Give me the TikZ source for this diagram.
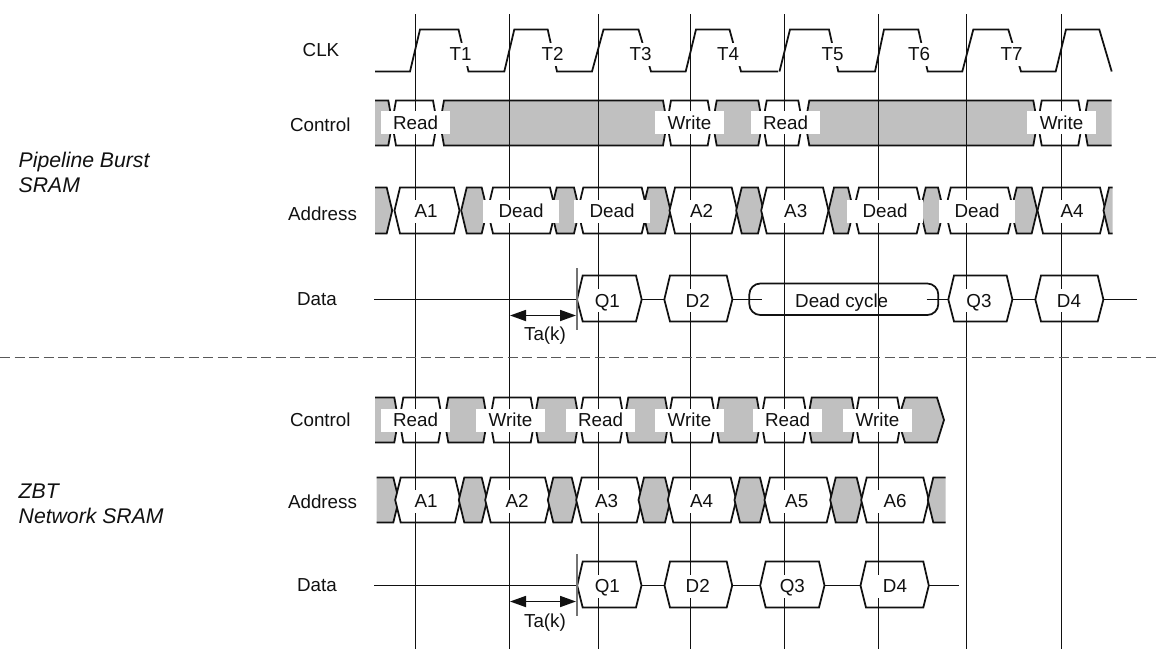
\documentclass[tikz,border=0pt]{standalone}
\usepackage{fontspec}
\setmainfont{Liberation Sans}
\usetikzlibrary{arrows.meta}
\definecolor{busgray}{HTML}{C0C0C0}
\definecolor{lineblack}{HTML}{111111}
\tikzset{
  wire/.style={draw=lineblack,line width=1.75pt,line join=miter},
  dashline/.style={draw=black!65,line width=1.3pt,dash pattern=on 10pt off 4.5pt},
  tickline/.style={draw=black!55,line width=1.4pt},
  txt/.style={inner sep=0pt,text height=13.5pt,text depth=0pt,text=lineblack,font=\fontsize{18.8}{22}\selectfont},
  boxed/.style={txt,fill=white,minimum height=23pt},
  cmdbox/.style={boxed,minimum width=69pt},
  deadbox/.style={boxed,minimum width=76pt},
  valbox/.style={boxed,minimum width=34pt},
  tlab/.style={boxed,minimum width=26pt},
  sidelabel/.style={txt},
  grouplabel/.style={inner sep=0pt,anchor=west,align=left,text=lineblack,font=\fontsize{21.2}{25}\selectfont\itshape},
  spanarrow/.style={wire,{Triangle[length=16pt,width=11pt]}-{Triangle[length=16pt,width=11pt]}}
}
\def\rT{0}\def\rB{0}\def\rM{0}\def\rS{4}
\newcommand{\setrow}[4]{\def\rT{#1}\def\rM{#2}\def\rB{#3}\def\rS{#4}}
\newcommand{\hexw}[2]{\path[wire,fill=white] ({#1-\rS},\rM) -- (#1,\rT) -- (#2,\rT) -- ({#2+\rS},\rM) -- (#2,\rB) -- (#1,\rB) -- cycle;}
\newcommand{\hexg}[2]{\path[wire,fill=busgray] ({#1-\rS},\rM) -- (#1,\rT) -- (#2,\rT) -- ({#2+\rS},\rM) -- (#2,\rB) -- (#1,\rB) -- cycle;}
\newcommand{\openl}[2]{\fill[busgray] (#1,\rT) -- (#2,\rT) -- ({#2+\rS},\rM) -- (#2,\rB) -- (#1,\rB) -- cycle;
  \draw[wire] (#1,\rT) -- (#2,\rT) -- ({#2+\rS},\rM) -- (#2,\rB) -- (#1,\rB);}
\newcommand{\openr}[2]{\fill[busgray] (#2,\rT) -- (#1,\rT) -- ({#1-\rS},\rM) -- (#1,\rB) -- (#2,\rB) -- cycle;
  \draw[wire] (#2,\rT) -- (#1,\rT) -- ({#1-\rS},\rM) -- (#1,\rB) -- (#2,\rB);}
\begin{document}
\begin{tikzpicture}[x=1pt,y=-1pt]
\useasboundingbox (0,0) rectangle (1157,649);
% clock
\draw[wire] (375,71.5) -- (410,71.5) -- (420,29.5) -- (458.5,29.5) -- (468.5,71.5) -- (504.3,71.5) -- (514.3,29.5) -- (547.7,29.5) -- (557,71.5) -- (592,71.5) -- (603.5,29.5) -- (638.5,29.5) -- (651,71.5) -- (685.7,71.5) -- (696,29.5) -- (729.5,29.5) -- (741,71.5) -- (778,71.5);
\draw[wire] (779.5,71.5) -- (790,29.5) -- (829,29.5) -- (838.3,71.5) -- (875,71.5) -- (884,29.5) -- (918.3,29.5) -- (927.7,71.5) -- (962.3,71.5) -- (973.3,29.5) -- (1008.3,29.5) -- (1021,71.5) -- (1055.7,71.5) -- (1066,29.5) -- (1099.3,29.5) -- (1111.7,71.5);
% upper control
\setrow{100.5}{122.8}{145.5}{4}
\openl{375}{388.3}
\hexw{396}{433}
\hexg{444}{663}
\hexw{671}{707.7}
\hexg{716.7}{758.3}
\hexw{766.7}{798.3}
\hexg{809.3}{1033.3}
\hexw{1041.7}{1078.3}
\openr{1087.7}{1111.7}
% upper address
\setrow{187.5}{210.5}{233.5}{5.5}
\openl{375}{386.7}
\hexw{400}{454}
\hexg{466.7}{481.7}
\hexw{493}{550}
\hexg{556.7}{574}
\hexw{583.3}{641.7}
\hexg{648}{665}
\hexw{675}{731.7}
\hexg{741.7}{758}
\hexw{766.7}{823}
\hexg{834}{848}
\hexw{859}{916.7}
\hexg{925.7}{938}
\hexw{950.7}{1008}
\hexg{1016.7}{1031.7}
\hexw{1043}{1100}
\openr{1109}{1112.5}
% upper data
\setrow{275.5}{299.5}{321.5}{5.7}
\coordinate (d1s) at (374,299.5);
\coordinate (d1e) at (1137.3,299.5);
\draw[wire] (d1s) -- (577,299.5);
\draw[wire] (641.7,299.5) -- (664.7,299.5);
\draw[wire] (732.3,299.5) -- (761.7,299.5);
\draw[wire] (926.7,299.5) -- (948.3,299.5);
\draw[wire] (1012.7,299.5) -- (1035.3,299.5);
\draw[wire] (1103.3,299.5) -- (d1e);
\hexw{582.7}{636}
\hexw{670}{726.7}
\hexw{954}{1006.7}
\hexw{1041}{1097.7}
\draw[wire,rounded corners=11pt] (749.3,283.5) rectangle (938.3,315);
% lower control
\setrow{397.5}{420}{442.5}{4}
\openl{375}{394.3}
\hexw{403.3}{438.3}
\hexg{448.3}{483.3}
\hexw{494}{530.7}
\hexg{538.3}{575}
\hexw{583.3}{620}
\hexg{628.3}{665}
\hexw{672.3}{711.7}
\hexg{719.3}{756.7}
\hexw{765}{803.3}
\hexg{811.7}{851.7}
\hexw{859}{897.3}
\setrow{397.5}{420}{442.5}{7}
\hexg{905}{937}
% lower address
\setrow{477.5}{500}{522.5}{5.5}
\openl{376.7}{393.3}
\hexw{400.7}{455}
\hexg{464.3}{481.7}
\hexw{490.7}{545}
\hexg{553.3}{571.7}
\hexw{581.7}{636.7}
\hexg{644}{665}
\hexw{673.3}{730.7}
\hexg{740}{760}
\hexw{770}{826.7}
\hexg{835.7}{856.7}
\hexw{866.7}{923.3}
\openr{933.3}{945.7}
% lower data
\setrow{561.5}{585.5}{607.5}{5.5}
\coordinate (d2s) at (374,585.5);
\coordinate (d2e) at (959.3,585.5);
\draw[wire] (d2s) -- (577,585.5);
\draw[wire] (641.7,585.5) -- (664.7,585.5);
\draw[wire] (732.3,585.5) -- (760,585.5);
\draw[wire] (824.3,585.5) -- (860.7,585.5);
\draw[wire] (928.7,585.5) -- (d2e);
\hexw{582.7}{636}
\hexw{670}{726.7}
\hexw{765.7}{819}
\hexw{866}{923.3}
% clock-edge verticals
\foreach \n/\x in {a/415.5,b/509.5,c/598.5,d/690.5,e/784.5,f/878.5,g/966.5,h/1061.5}{
  \coordinate (v\n t) at (\x,14);
  \coordinate (v\n b) at (\x,648.5);
  \draw[wire] (v\n t) -- (v\n b);
}
% dashed separator
\coordinate (sepl) at (0,357.5);
\coordinate (sepr) at (1157,357.5);
\draw[dashline] (sepl) -- (sepr);
% access time markers
\coordinate (t1t) at (577,268.3); \coordinate (t1b) at (577,330);
\coordinate (t2t) at (577,554); \coordinate (t2b) at (577,615.7);
\coordinate (a1l) at (510,315.5); \coordinate (a1r) at (576,315.5);
\coordinate (a2l) at (510,601.5); \coordinate (a2r) at (576,601.5);
\draw[tickline] (t1t) -- (t1b);
\draw[tickline] (t2t) -- (t2b);
\draw[spanarrow] (a1l) -- (a1r);
\draw[spanarrow] (a2l) -- (a2r);
% clock labels
\node[tlab] (T1) at (460.5,54) {T1};
\node[tlab] (T2) at (552.7,54) {T2};
\node[tlab] (T3) at (640.7,54) {T3};
\node[tlab] (T4) at (728,54) {T4};
\node[tlab] (T5) at (832.7,54) {T5};
\node[tlab] (T6) at (919,54) {T6};
\node[tlab] (T7) at (1011.7,54) {T7};
% upper labels
\node[cmdbox] (c1) at (415.5,122.3) {Read};
\node[cmdbox] (c2) at (689.5,122.3) {Write};
\node[cmdbox] (c3) at (785.5,122.3) {Read};
\node[cmdbox] (c4) at (1061.5,122.3) {Write};
\node[valbox] (ua1) at (426,211) {A1};
\node[deadbox] (ud1) at (521,211) {Dead};
\node[deadbox] (ud2) at (612,211) {Dead};
\node[valbox] (ua2) at (701.7,211) {A2};
\node[valbox] (ua3) at (795.7,211) {A3};
\node[deadbox] (ud3) at (885,211) {Dead};
\node[deadbox] (ud4) at (977,211) {Dead};
\node[valbox] (ua4) at (1072,211) {A4};
\node[valbox] (uq1) at (607.3,300.5) {Q1};
\node[valbox] (ud2b) at (697.7,300.5) {D2};
\node[valbox] (uq3) at (979,300.5) {Q3};
\node[valbox] (ud4b) at (1069,300.5) {D4};
\node[txt] (dc) at (841.7,300.5) {Dead cycle};
\node[txt] (ta1) at (545,334) {Ta(k)};
% lower labels
\node[cmdbox] (lc1) at (415.5,420) {Read};
\node[cmdbox] (lc2) at (510.5,420) {Write};
\node[cmdbox] (lc3) at (600.5,420) {Read};
\node[cmdbox] (lc4) at (689.5,420) {Write};
\node[cmdbox] (lc5) at (787.5,420) {Read};
\node[cmdbox] (lc6) at (877.5,420) {Write};
\node[valbox] (la1) at (426,501) {A1};
\node[valbox] (la2) at (517,501) {A2};
\node[valbox] (la3) at (606.7,501) {A3};
\node[valbox] (la4) at (701.7,501) {A4};
\node[valbox] (la5) at (796.7,501) {A5};
\node[valbox] (la6) at (895,501) {A6};
\node[valbox] (lq1) at (607.3,586) {Q1};
\node[valbox] (ld2) at (697.7,586) {D2};
\node[valbox] (lq3) at (792.3,586) {Q3};
\node[valbox] (ld4) at (895,586) {D4};
\node[txt] (ta2) at (545,620.7) {Ta(k)};
% row names
\node[sidelabel] (nclk) at (321,50) {CLK};
\node[sidelabel] (nc1) at (320.3,125) {Control};
\node[sidelabel] (na1) at (322.5,214) {Address};
\node[sidelabel] (nd1) at (317,299) {Data};
\node[sidelabel] (nc2) at (320.3,420) {Control};
\node[sidelabel] (na2) at (322.5,501.7) {Address};
\node[sidelabel] (nd2) at (317,585) {Data};
\node[grouplabel] (g1) at (18.5,172.5) {Pipeline Burst\\SRAM};
\node[grouplabel] (g2) at (18.5,504) {ZBT\\Network SRAM};
\end{tikzpicture}
\end{document}
